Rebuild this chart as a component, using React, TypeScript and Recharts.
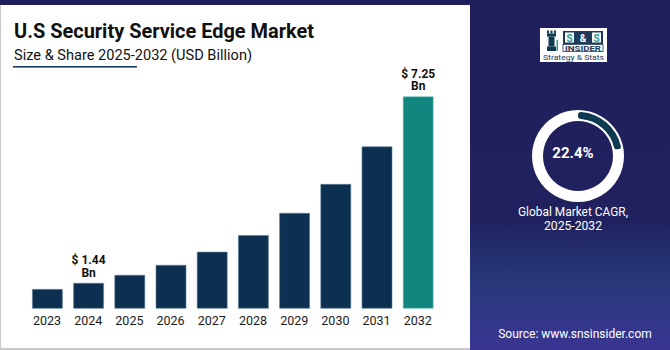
import React from "react";
import { BarChart, Bar, XAxis, YAxis, Cell, LabelList, PieChart, Pie } from "recharts";

const years = ["2023", "2024", "2025", "2026", "2027", "2028", "2029", "2030", "2031", "2032"];
const marketValues = [1.25, 1.44, 1.69, 2.0, 2.41, 2.93, 3.62, 4.52, 5.69, 7.25];
const labeledYears = ["2024", "2032"];
const highlightYear = "2032";
const cagrValue = 22.4;

const title = "U.S Security Service Edge Market";
const subtitle = "Size & Share 2025-2032 (USD Billion)";
const cagrLines = ["Global Market CAGR,", "2025-2032"];
const sourceText = "Source: www.snsinsider.com";

const data = years.map((y, i) => ({ year: y, value: marketValues[i] }));
const donutData = [
  { name: "cagr", value: cagrValue },
  { name: "rest", value: 100 - cagrValue },
];

const NAVY = "#1f1f5b";
const BAR = "#0d3050";
const TEAL = "#13857f";
const FONT = "Roboto, 'Noto Sans', Arial, sans-serif";

const BarLabel = (props: any) => {
  const { x, y, width, value, index } = props;
  if (!labeledYears.includes(years[index])) return null;
  const cx = x + width / 2;
  return (
    <g>
      <text x={cx} y={y - 19} textAnchor="middle" fontFamily={FONT} fontWeight={700} fontSize={12} fill="#111">
        {`$ ${value.toFixed(2)}`}
      </text>
      <text x={cx} y={y - 6.5} textAnchor="middle" fontFamily={FONT} fontWeight={700} fontSize={12} fill="#111">
        Bn
      </text>
    </g>
  );
};

export default function App() {
  return (
    <div style={{ position: "fixed", left: 0, top: 0, width: 670, height: 350, overflow: "hidden", background: NAVY }}>
      <svg width={670} height={350} style={{ position: "absolute", left: 0, top: 0 }}>
        <defs>
          <linearGradient id="panelGrad" x1="0" y1="0" x2="0" y2="1">
            <stop offset="0" stopColor={NAVY} />
            <stop offset="0.62" stopColor="#20215e" />
            <stop offset="0.8" stopColor="#27397a" />
            <stop offset="1" stopColor="#3a3592" />
          </linearGradient>
        </defs>
        <rect x={0} y={0} width={670} height={350} fill={NAVY} />
        <rect x={470} y={5} width={200} height={345} fill="url(#panelGrad)" />
        <rect x={0} y={5} width={470} height={345} fill="#c8c8cc" />
        <rect x={1} y={5} width={469} height={343} fill="#ffffff" />
        <text x={14} y={38} fontFamily={FONT} fontWeight={700} fontSize={21} fill="#111" textLength={300} lengthAdjust="spacingAndGlyphs">
          {title}
        </text>
        <text x={14} y={60} fontFamily={FONT} fontSize={15.5} fill="#111" textLength={238} lengthAdjust="spacingAndGlyphs">
          {subtitle}
        </text>
        <rect x={13} y={66} width={124} height={1.6} fill="#1b3b5a" />
        {/* logo */}
        <rect x={540} y={28} width={67} height={34} fill="#ffffff" />
        <g fill="#0d3a50">
          <rect x={547} y={30.5} width={2} height={3} />
          <rect x={550.5} y={30.5} width={2} height={3} />
          <rect x={554} y={30.5} width={2} height={3} />
          <rect x={547} y={33.5} width={9} height={3} />
          <rect x={548.5} y={36.5} width={6} height={10} />
          <rect x={547} y={46.5} width={9} height={4.5} />
        </g>
        <rect x={556.5} y={40} width={1.5} height={11} fill="#2a9d8f" />
        <rect x={563} y={31} width={40} height={13} fill="#1e3a5a" />
        <rect x={565} y={32.5} width={9} height={10} fill="#ffffff" />
        <rect x={592} y={32.5} width={9} height={10} fill="#ffffff" />
        <text x={569.5} y={41.5} textAnchor="middle" fontFamily={FONT} fontWeight={700} fontSize={10} fill="#2a9d8f">S</text>
        <text x={583} y={41.5} textAnchor="middle" fontFamily={FONT} fontWeight={700} fontSize={10} fill="#ffffff">&amp;</text>
        <text x={596.5} y={41.5} textAnchor="middle" fontFamily={FONT} fontWeight={700} fontSize={10} fill="#2a9d8f">S</text>
        <rect x={563} y={44.5} width={40} height={7} fill="#ffffff" stroke="#1e3a5a" strokeWidth={0.8} />
        <text x={583} y={50.5} textAnchor="middle" fontFamily={FONT} fontWeight={700} fontSize={7} fill="#1e3a5a" textLength={36} lengthAdjust="spacingAndGlyphs">INSIDER</text>
        <text x={573.5} y={59.5} textAnchor="middle" fontFamily={FONT} fontSize={7} fill="#1e3a5a" textLength={61} lengthAdjust="spacingAndGlyphs">Strategy &amp; Stats</text>
        {/* right text */}
        <text x={573} y={216} textAnchor="middle" fontFamily={FONT} fontSize={12} fill="#ffffff" textLength={110} lengthAdjust="spacingAndGlyphs">{cagrLines[0]}</text>
        <text x={573} y={229.5} textAnchor="middle" fontFamily={FONT} fontSize={12} fill="#ffffff" textLength={58} lengthAdjust="spacingAndGlyphs">{cagrLines[1]}</text>
        <text x={575} y={338} textAnchor="middle" fontFamily={FONT} fontSize={12} fill="#ffffff">{sourceText}</text>
      </svg>

      <div style={{ position: "absolute", left: 0, top: 0 }}>
        <BarChart width={670} height={350} data={data} margin={{ top: 96.7, right: 231.6, bottom: 11.7, left: 26.4 }} barCategoryGap={0}>
          <XAxis
            dataKey="year"
            height={30}
            axisLine={false}
            tickLine={false}
            interval={0}
            tick={{ fontFamily: FONT, fontSize: 12.5, fill: "#1a1a1a" }}
          />
          <YAxis hide domain={[0.66, 7.25]} />
          <Bar dataKey="value" barSize={30} isAnimationActive={false} stroke="#5d7f9c" strokeWidth={0.6}>
            {data.map((d) => (
              <Cell key={d.year} fill={d.year === highlightYear ? TEAL : BAR} stroke={d.year === highlightYear ? "#6fc7c0" : "#5d7f9c"} />
            ))}
            <LabelList dataKey="value" content={<BarLabel />} />
          </Bar>
        </BarChart>
      </div>

      <div style={{ position: "absolute", left: 473, top: 51 }}>
        <PieChart width={200} height={200}>
          <Pie
            data={[{ name: "ring", value: 1 }]}
            dataKey="value"
            cx={100}
            cy={100}
            innerRadius={35}
            outerRadius={46}
            startAngle={90}
            endAngle={-270}
            fill="#ffffff"
            stroke="none"
            isAnimationActive={false}
          />
          <Pie
            data={donutData}
            dataKey="value"
            cx={100}
            cy={100}
            innerRadius={37}
            outerRadius={44}
            startAngle={90}
            endAngle={-270}
            cornerRadius={3}
            stroke="none"
            isAnimationActive={false}
          >
            <Cell fill="#0d3a50" />
            <Cell fill="#ffffff" />
          </Pie>
        </PieChart>
      </div>
      <svg width={670} height={350} style={{ position: "absolute", left: 0, top: 0, pointerEvents: "none" }}>
        <text x={573} y={158} textAnchor="middle" fontFamily={FONT} fontWeight={700} fontSize={15} fill="#ffffff">
          {`${cagrValue}%`}
        </text>
      </svg>
    </div>
  );
}
